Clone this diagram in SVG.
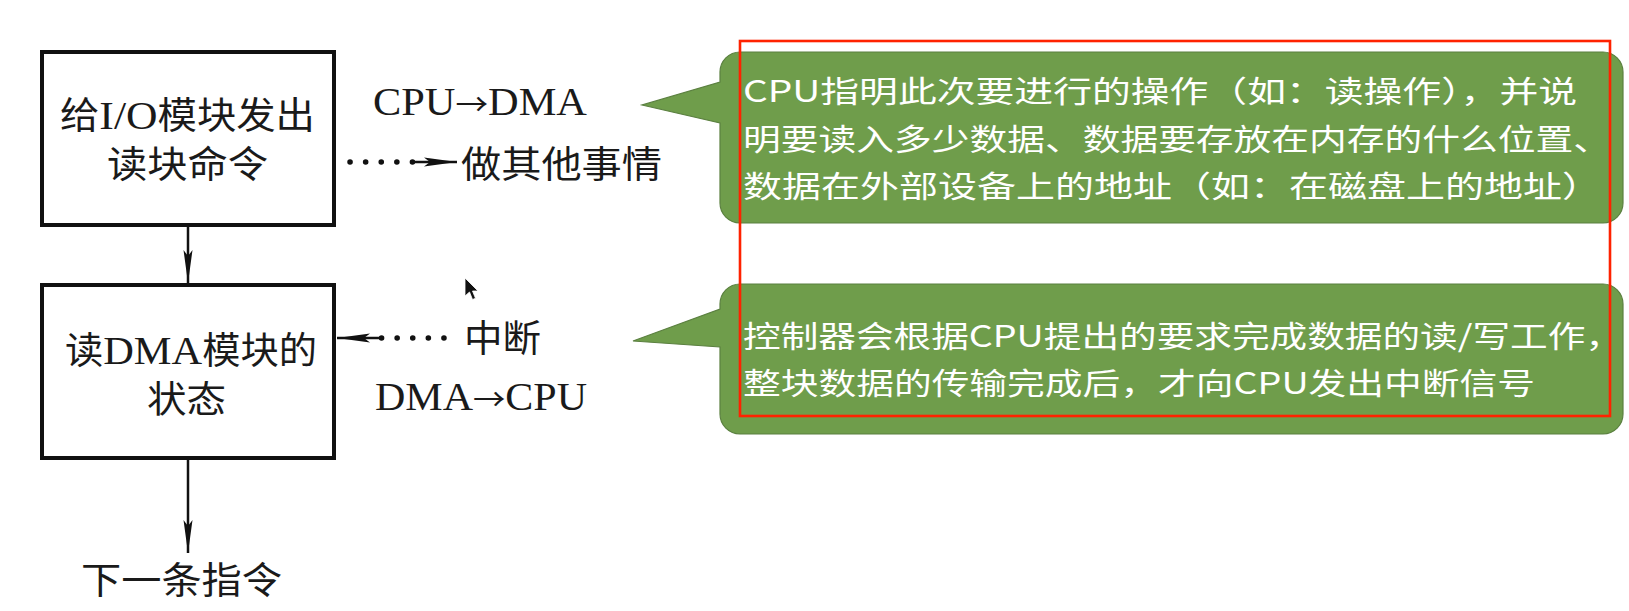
<svg xmlns="http://www.w3.org/2000/svg" width="1629" height="611" viewBox="0 0 1629 611">
<style>
.box{fill:#ffffff;stroke:#111111;stroke-width:4}
.lbl{font-family:"Liberation Serif","Noto Sans CJK SC",serif;font-size:37px;fill:#1a1a1a}
.lat{font-family:"Liberation Serif",serif;font-size:41px}
.dir{font-family:"Liberation Serif","Noto Sans CJK SC",serif;font-size:39px;fill:#1a1a1a}
.arr{font-family:"Noto Sans CJK SC",sans-serif;font-size:30px}
.call{fill:#6F9D4B;stroke:#5B8040;stroke-width:1.2}
.ctext{font-family:"Noto Sans CJK SC","Noto Sans",sans-serif;font-size:30px;fill:#ffffff}
.solid{stroke:#111111;stroke-width:2.5;fill:none}
.dots{stroke:#111111;stroke-width:5.5;stroke-linecap:round;stroke-dasharray:0.1 15.5;fill:none}
</style>
<defs>
<marker id="ah" markerUnits="userSpaceOnUse" viewBox="0 0 33 10" markerWidth="33" markerHeight="10" refX="33" refY="5" orient="auto">
<path d="M0,0.5 L33,5 L0,9.5 L6,5 Z" fill="#111111"/>
</marker>
</defs>
<rect width="1629" height="611" fill="#ffffff"/>

<g id="connectors">
<line class="solid" x1="188" y1="227" x2="188" y2="283" marker-end="url(#ah)"/>
<line class="solid" x1="188" y1="460" x2="188" y2="553" marker-end="url(#ah)"/>
<line class="dots" x1="350" y1="162" x2="413" y2="162"/>
<line class="solid" x1="413" y1="162" x2="457" y2="162" marker-end="url(#ah)"/>
<line class="dots" x1="444" y1="338" x2="381" y2="338"/>
<line class="solid" x1="381" y1="338" x2="337" y2="338" marker-end="url(#ah)"/>
</g>

<g id="node-send">
<rect class="box" x="42" y="52" width="292" height="173"/>
<text class="lbl" x="60" y="129" textLength="255" lengthAdjust="spacingAndGlyphs">给<tspan class="lat">I/O</tspan>模块发出</text>
<text class="lbl" x="107" y="178" textLength="161" lengthAdjust="spacingAndGlyphs">读块命令</text>
</g>

<g id="node-read">
<rect class="box" x="42" y="285" width="292" height="173"/>
<text class="lbl" x="65" y="364" textLength="252" lengthAdjust="spacingAndGlyphs">读<tspan class="lat">DMA</tspan>模块的</text>
<text class="lbl" x="147" y="413" textLength="79" lengthAdjust="spacingAndGlyphs">状态</text>
</g>

<g id="node-next">
<text class="lbl" x="81" y="594" textLength="201" lengthAdjust="spacingAndGlyphs">下一条指令</text>
</g>

<g id="labels">
<text class="dir" x="373" y="115" textLength="214" lengthAdjust="spacingAndGlyphs">CPU<tspan class="arr">→</tspan>DMA</text>
<text class="lbl" x="461" y="178" textLength="201" lengthAdjust="spacingAndGlyphs">做其他事情</text>
<text class="lbl" x="464" y="352" textLength="77" lengthAdjust="spacingAndGlyphs">中断</text>
<text class="dir" x="375" y="410" textLength="212" lengthAdjust="spacingAndGlyphs">DMA<tspan class="arr">→</tspan>CPU</text>
</g>

<g id="callout-1">
<path class="call" d="M740,52 H1603 A20,20 0 0 1 1623,72 V203 A20,20 0 0 1 1603,223 H740 A20,20 0 0 1 720,203 V123 L642,105 L720,82 V72 A20,20 0 0 1 740,52 Z"/>
<text class="ctext" x="743" y="102" textLength="834" lengthAdjust="spacingAndGlyphs">CPU指明此次要进行的操作（如：读操作），并说</text>
<text class="ctext" x="743" y="150" textLength="868" lengthAdjust="spacingAndGlyphs">明要读入多少数据、数据要存放在内存的什么位置、</text>
<text class="ctext" x="743" y="197" textLength="858" lengthAdjust="spacingAndGlyphs">数据在外部设备上的地址（如：在磁盘上的地址）</text>
</g>

<g id="callout-2">
<path class="call" d="M740,284 H1603 A20,20 0 0 1 1623,304 V414 A20,20 0 0 1 1603,434 H740 A20,20 0 0 1 720,414 V347 L633,341 L720,309 V304 A20,20 0 0 1 740,284 Z"/>
<text class="ctext" x="743" y="347" textLength="880" lengthAdjust="spacingAndGlyphs">控制器会根据CPU提出的要求完成数据的读/写工作，</text>
<text class="ctext" x="743" y="394" textLength="792" lengthAdjust="spacingAndGlyphs">整块数据的传输完成后，才向CPU发出中断信号</text>
</g>

<rect id="highlight" x="740" y="41" width="870" height="375" fill="none" stroke="#FF2200" stroke-width="2.6"/>

<path id="cursor" d="M465,278 L465,296 L469.5,292 L472.5,299.5 L475.5,298.3 L472.5,291 L478,291 Z" fill="#111111" stroke="#ffffff" stroke-width="0.8"/>
</svg>
